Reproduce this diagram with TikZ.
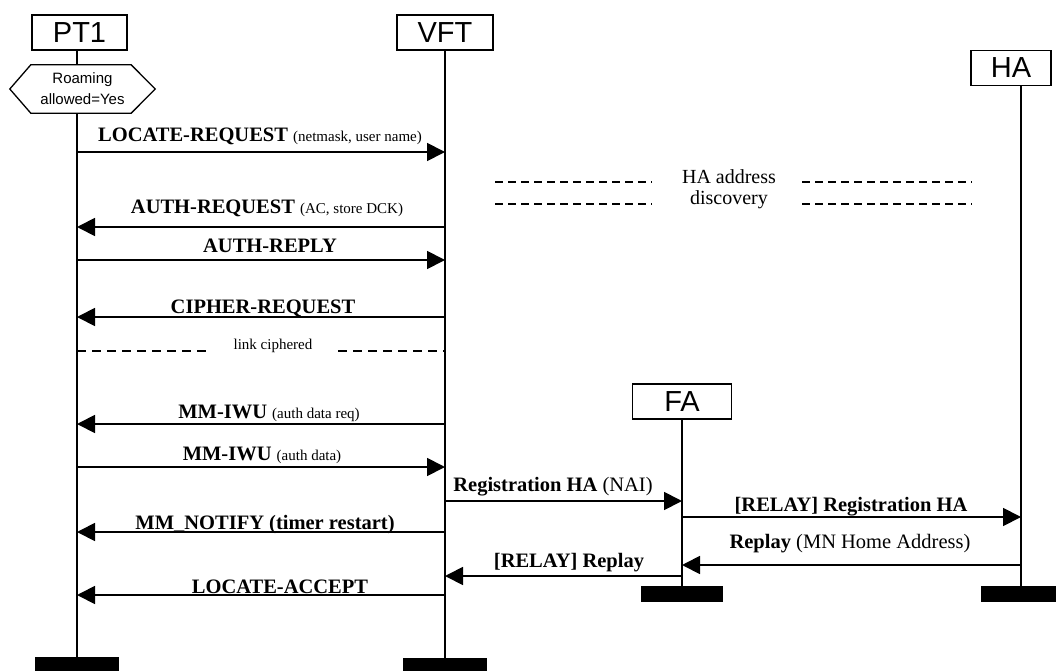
\documentclass[tikz,border=0pt]{standalone}
\usepackage{fontspec}
\setmainfont{Liberation Serif}
\newfontfamily\boxfont{Liberation Sans}
\usetikzlibrary{arrows.meta}

\tikzset{
  actor/.style={draw, line width=1.3pt, minimum height=35pt, inner sep=0pt,
    font=\boxfont\fontsize{29}{30}\selectfont},
  endbar/.style={fill=black, inner sep=0pt, minimum height=16pt},
  life/.style={line width=1.3pt},
  msg/.style={line width=1.8pt, -{Triangle[length=18pt,width=18pt]}},
  lbl/.style={anchor=base, inner sep=0pt, font=\bfseries\fontsize{20.5}{22}\selectfont},
  note/.style={anchor=base, inner sep=0pt, font=\fontsize{20}{22}\selectfont},
  sep/.style={line width=1.3pt, dash pattern=on 9pt off 6pt},
}
\newcommand{\sm}[1]{{\mdseries\fontsize{15}{16}\selectfont #1}}
\newcommand{\rg}[1]{{\mdseries #1}}

\begin{document}
\begin{tikzpicture}[x=1pt,y=-1pt]
\useasboundingbox (0,0) rectangle (1056,671);

% entities
\node[actor, minimum width=95pt] (pt1) at (79.5,32.5) {PT1};
\node[actor, minimum width=96pt] (vft) at (445,32.5) {VFT};
\node[actor, minimum width=80pt] (ha)  at (1011,68) {HA};
\node[actor, minimum width=99pt] (fa)  at (682,401.5) {FA};

% end bars
\node[endbar, minimum width=84pt] (pt1end) at (77,665) {};
\node[endbar, minimum width=84pt] (vftend) at (445,666) {};
\node[endbar, minimum width=82pt] (faend)  at (682,594) {};
\node[endbar, minimum width=80pt] (haend)  at (1021,594) {};

% condition on PT1
\node[inner sep=0pt, minimum width=145pt, minimum height=48pt, align=center,
      font=\boxfont\fontsize{15}{21}\selectfont] (hex) at (82.5,89) {Roaming\\allowed=Yes};
\draw[life] (hex.west) -- ([xshift=21pt]hex.north west) -- ([xshift=-24pt]hex.north east)
  -- (hex.east) -- ([xshift=-24pt]hex.south east) -- ([xshift=21pt]hex.south west) -- cycle;

% lifelines
\draw[life] (pt1end.center |- pt1.south) -- (pt1end.center |- hex.north);
\draw[life] (pt1end.center |- hex.south) -- (pt1end.north);
\draw[life] (vft.south) -- (vftend.north);
\draw[life] (fa.south) -- (faend.north);
\draw[life] (haend.center |- ha.south) -- (haend.north);

% messages
\draw[msg] (pt1end.center |- 0,152) -- (vftend.center |- 0,152);
\node[lbl] (m1) at (260,142) {LOCATE-REQUEST \sm{(netmask, user name)}};

\draw[msg] (vftend.center |- 0,227) -- (pt1end.center |- 0,227);
\node[lbl] (m2) at (267,213) {AUTH-REQUEST \sm{(AC, store DCK)}};

\draw[msg] (pt1end.center |- 0,260) -- (vftend.center |- 0,260);
\node[lbl] (m3) at (270,252) {AUTH-REPLY};

\draw[msg] (vftend.center |- 0,317) -- (pt1end.center |- 0,317);
\node[lbl] (m4) at (263,313) {CIPHER-REQUEST};

% ciphered link
\node[anchor=base, inner sep=0pt, font=\fontsize{15}{16}\selectfont] (lk) at (273,349) {link ciphered};
\coordinate (lkl) at (207,351);
\coordinate (lkr) at (338,351);
\draw[sep] (pt1end.center |- lkl) -- (lkl);
\draw[sep] (lkr) -- (vftend.center |- lkr);

\draw[msg] (vftend.center |- 0,424) -- (pt1end.center |- 0,424);
\node[lbl] (m5) at (269,418) {MM-IWU \sm{(auth data req)}};

\draw[msg] (pt1end.center |- 0,467) -- (vftend.center |- 0,467);
\node[lbl] (m6) at (262,460) {MM-IWU \sm{(auth data)}};

\draw[msg] (vftend.center |- 0,501) -- (faend.center |- 0,501);
\node[lbl] (m7) at (553,491) {Registration HA \rg{(NAI)}};

\draw[msg] (faend.center |- 0,517) -- (haend.center |- 0,517);
\node[lbl] (m8) at (851,511) {[RELAY] Registration HA};

\draw[msg] (vftend.center |- 0,532) -- (pt1end.center |- 0,532);
\node[lbl] (m9) at (265,529) {MM\_NOTIFY (timer restart)};

\draw[msg] (haend.center |- 0,565) -- (faend.center |- 0,565);
\node[lbl] (m10) at (850,548) {Replay \rg{(MN Home Address)}};

\draw[msg] (faend.center |- 0,576) -- (vftend.center |- 0,576);
\node[lbl] (m11) at (569,567) {[RELAY] Replay};

\draw[msg] (vftend.center |- 0,595) -- (pt1end.center |- 0,595);
\node[lbl] (m12) at (280,593) {LOCATE-ACCEPT};

% HA address discovery
\node[note] (hd1) at (729,183) {HA address};
\node[note] (hd2) at (729,204) {discovery};
\coordinate (d1a) at (495,182); \coordinate (d1b) at (652,182);
\coordinate (d1c) at (802,182); \coordinate (d1d) at (972,182);
\coordinate (d2a) at (495,204); \coordinate (d2b) at (652,204);
\coordinate (d2c) at (802,204); \coordinate (d2d) at (972,204);
\draw[sep, dash pattern=on 8pt off 5pt] (d1a) -- (d1b) (d1c) -- (d1d);
\draw[sep, dash pattern=on 8pt off 5pt] (d2a) -- (d2b) (d2c) -- (d2d);
\end{tikzpicture}
\end{document}
